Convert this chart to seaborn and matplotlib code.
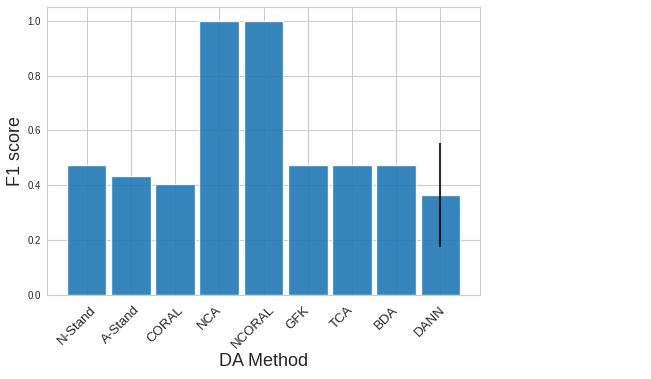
import matplotlib
matplotlib.use("Agg")
import matplotlib.pyplot as plt
import matplotlib.transforms as mtransforms
import seaborn as sns
import numpy as np

methods = ["N-Stand", "A-Stand", "CORAL", "NCA", "NCORAL", "GFK", "TCA", "BDA", "DANN"]
f1_scores = [0.474, 0.434, 0.405, 1.0, 1.0, 0.474, 0.474, 0.474, 0.365]
f1_errors = [0, 0, 0, 0, 0, 0, 0, 0, 0.19]

sns.set_style("whitegrid")
plt.rcParams["font.family"] = ["Liberation Sans", "DejaVu Sans"]

fig = plt.figure(figsize=(6.51, 3.79), dpi=100)
ax = fig.add_axes([47 / 651, 1 - 295 / 379, (480 - 47) / 651, (295 - 7) / 379])

x = np.arange(len(methods))
yerr = [e if e > 0 else np.nan for e in f1_errors]
ax.bar(x, f1_scores, width=0.9, color=sns.color_palette()[0], alpha=0.9)
ax.errorbar(x, f1_scores, yerr=yerr, fmt="none", ecolor="black", elinewidth=1.5, alpha=0.8)
ax.set_xticks(x)
ax.tick_params(axis="y", labelsize=7, pad=1)
ax.tick_params(axis="x", pad=3)
ax.set_xticklabels(methods, rotation=45, fontsize=9.5, ha="center")
offset = mtransforms.ScaledTranslation(-10 / 100, 0, fig.dpi_scale_trans)
for lbl in ax.get_xticklabels():
    lbl.set_transform(lbl.get_transform() + offset)
ax.set_ylabel("F1 score", fontsize=13)
ax.set_xlabel("DA Method", fontsize=13)
ax.yaxis.set_label_coords(-0.052, 0.5)
ax.xaxis.set_label_coords(0.5, -0.2)
for s in ax.spines.values():
    s.set_color("#cccccc")

fig.savefig("out.png", dpi=100)
